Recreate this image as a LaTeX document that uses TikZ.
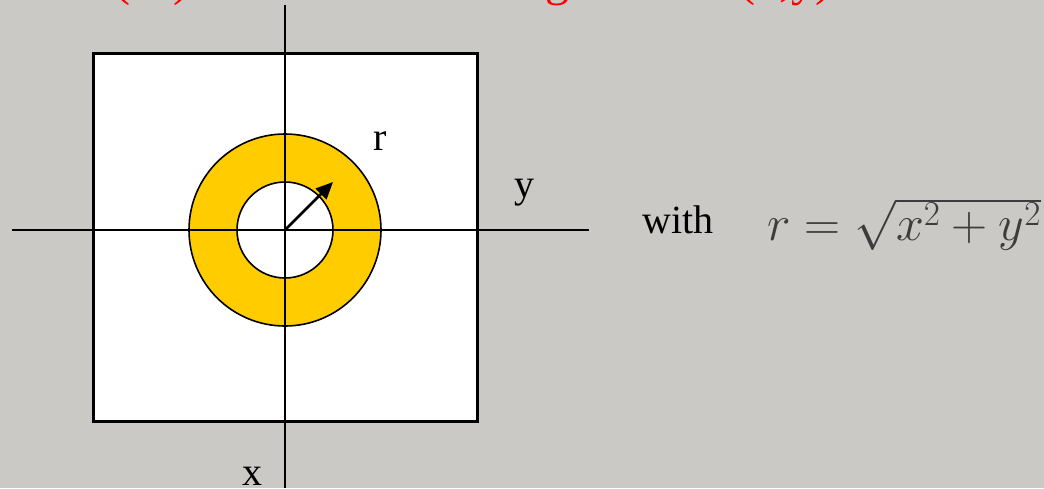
\RequirePackage{fix-cm}
\documentclass[tikz,border=0pt]{standalone}
\usepackage{fontspec}
\setmainfont{Liberation Serif}
\usetikzlibrary{arrows.meta}
\definecolor{bg}{RGB}{203,201,197}
\definecolor{ring}{RGB}{255,204,0}
\definecolor{redtxt}{RGB}{255,0,0}
\definecolor{formula}{RGB}{60,60,60}
\begin{document}
\begin{tikzpicture}[x=1pt,y=-1pt,
  lbl/.style={font=\fontsize{40}{48}\selectfont, inner sep=0pt, anchor=base},
  toptxt/.style={font=\fontsize{48}{56}\selectfont, text=redtxt, inner sep=0pt, anchor=base west},
  axisline/.style={line width=2pt},
  circ/.style={circle, draw, line width=1.6pt, inner sep=0pt}]
\useasboundingbox (0,0) rectangle (1044,488);
\clip (0,0) rectangle (1044,488);
\fill[bg] (0,0) rectangle (1044,488);
% top line (cut off)
\node[toptxt] (lp) at (114,-5) {(};
\node[toptxt] (rp) at (173,-5) {)};
\node[toptxt] (g) at (545,-5) {g};
\node[toptxt] (xy) at (739,-5) {(x,y)};
% box
\node[draw, line width=3pt, fill=white, minimum width=384pt, minimum height=368pt, inner sep=0pt] (box) at (285,237) {};
% ring
\node[circ, fill=ring, minimum size=192pt] (outer) at (285,230) {};
\node[circ, fill=white, minimum size=96pt] (inner) at (285,230) {};
% axes
\coordinate (o) at (285,230);
\coordinate (ytop) at (285,5);
\coordinate (ybot) at (285,488);
\coordinate (hl) at (12,230);
\coordinate (hr) at (589,230);
\draw[axisline] (ytop) -- (ybot);
\draw[axisline] (hl) -- (hr);
% radius arrow
\coordinate (tip) at (333,182);
\draw[line width=2.5pt, -{Triangle[length=17pt,width=15pt]}] (o) -- (tip);
% labels
\node[lbl] (rl) at (380,150) {r};
\node[lbl] (yl) at (524,197) {y};
\node[lbl] (xl) at (252,485) {x};
\node[lbl, anchor=base west] (with) at (642,233) {with};
\node[anchor=base west, inner sep=0pt, text=formula, font=\fontsize{50}{56}\selectfont] (f) at (767,240) {$r=\sqrt{x^2+y^2}$};
\end{tikzpicture}
\end{document}
